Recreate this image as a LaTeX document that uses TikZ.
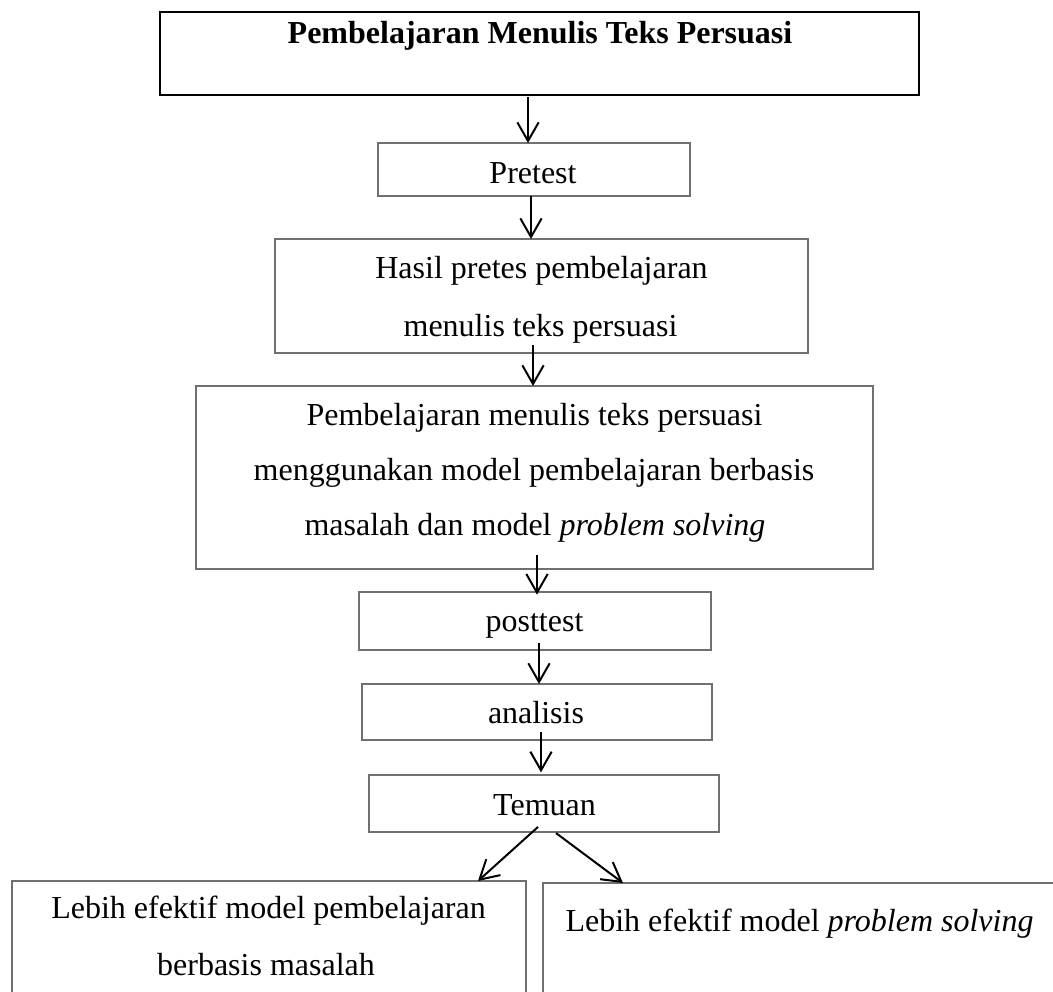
\documentclass[tikz,border=0pt]{standalone}
\usepackage{fontspec}
\setmainfont{Liberation Serif}
\usetikzlibrary{arrows.meta}
\definecolor{boxgray}{HTML}{707070}
\begin{document}
\begin{tikzpicture}[x=0.375pt,y=-0.375pt,
  box/.style={draw=boxgray, line width=0.45pt, inner sep=0pt, outer sep=0pt, anchor=north west, rectangle},
  topbox/.style={box, draw=black, line width=0.95pt},
  txt/.style={inner sep=0pt, anchor=base, font=\fontsize{12pt}{14pt}\selectfont},
  txtl/.style={txt, anchor=base west},
  arr/.style={line width=0.75pt, draw=black, -{Straight Barb[length=7pt,width=8pt]}}]
\clip (0,0) rectangle (1053,992);
\fill[white] (0,0) rectangle (1053,992);
% boxes
\node[topbox, minimum width=759*0.375pt, minimum height=83*0.375pt] (top) at (160,12) {};
\node[box, minimum width=312*0.375pt, minimum height=53*0.375pt] (pre) at (378,143) {};
\node[box, minimum width=533*0.375pt, minimum height=114*0.375pt] (hasil) at (275,239) {};
\node[box, minimum width=677*0.375pt, minimum height=183*0.375pt] (big) at (196,386) {};
\node[box, minimum width=352*0.375pt, minimum height=58*0.375pt] (post) at (359,592) {};
\node[box, minimum width=350*0.375pt, minimum height=56*0.375pt] (ana) at (362,684) {};
\node[box, minimum width=350*0.375pt, minimum height=57*0.375pt] (tem) at (369,775) {};
\node[box, minimum width=514*0.375pt, minimum height=140*0.375pt] (left) at (12,881) {};
\node[box, minimum width=600*0.375pt, minimum height=140*0.375pt] (right) at (543,883) {};
% texts
\node[txt, font=\fontsize{12pt}{14pt}\selectfont\bfseries] (topT) at (540,43) {Pembelajaran Menulis Teks Persuasi};
\node[txt] (preT) at (533,183) {Pretest};
\node[txt] (hasilT1) at (541.5,278) {Hasil pretes pembelajaran};
\node[txt] (hasilT2) at (540.5,336) {menulis teks persuasi};
\node[txt] (bigT1) at (534.5,425) {Pembelajaran menulis teks persuasi};
\node[txt] (bigT2) at (534,480) {menggunakan model pembelajaran berbasis};
\node[txt] (bigT3) at (535,535) {masalah dan model \textit{problem solving}};
\node[txt] (postT) at (534.5,631) {posttest};
\node[txt] (anaT) at (536,723) {analisis};
\node[txt] (temT) at (544.5,815) {Temuan};
\node[txt] (leftT1) at (268.5,918) {Lebih efektif model pembelajaran};
\node[txt] (leftT2) at (266,975) {berbasis masalah};
\node[txtl] (rightT) at (565,931) {Lebih efektif model \textit{problem solving}};
% arrow columns
\coordinate (a1) at (528,0);
\coordinate (a2) at (531,0);
\coordinate (a3) at (533,0);
\coordinate (a4) at (537,0);
\coordinate (a5) at (539,0);
\coordinate (a6) at (541,0);
\coordinate (cL) at (478,0);
\coordinate (cR) at (623,0);
% connectors
\draw[arr] ([yshift=-0.8pt]top.south -| a1) -- (pre.north -| a1);
\draw[arr] (pre.south -| a2) -- (hasil.north -| a2);
\draw[arr] ([yshift=3pt]hasil.south -| a3) -- (big.north -| a3);
\draw[arr] ([yshift=5.25pt]big.south -| a4) -- ([yshift=-1pt]post.north -| a4);
\draw[arr] ([yshift=2.6pt]post.south -| a5) -- (ana.north -| a5);
\draw[arr] ([yshift=3pt]ana.south -| a6) -- ([yshift=1pt]tem.north -| a6);
\draw[arr] ([xshift=-2.25pt,yshift=1.9pt]tem.south) -- (left.north -| cL);
\draw[arr] ([xshift=4.5pt,yshift=-0.4pt]tem.south) -- (right.north -| cR);
\end{tikzpicture}
\end{document}
